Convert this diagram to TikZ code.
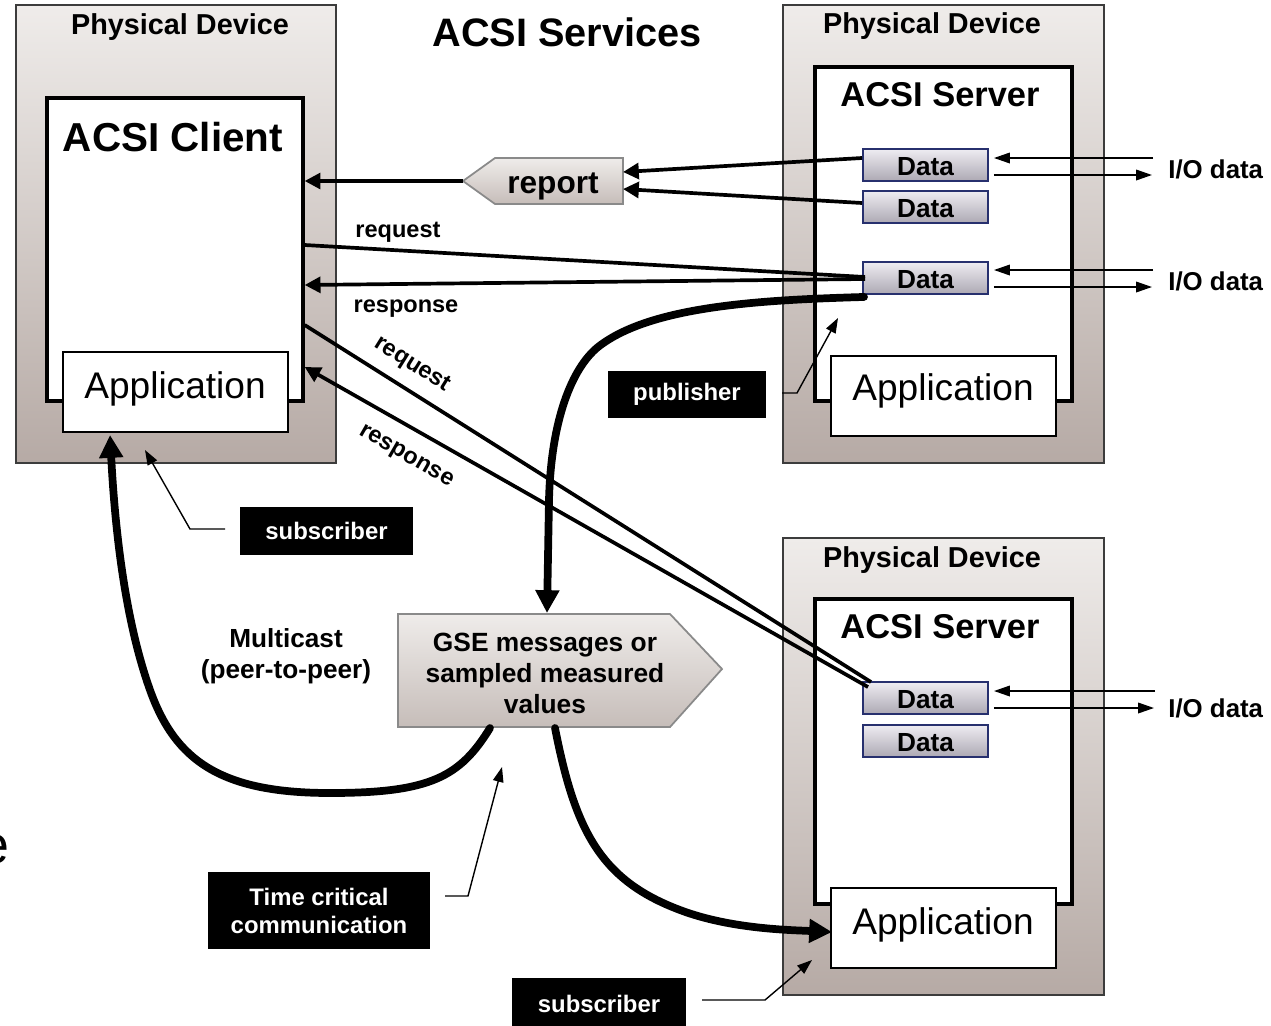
\documentclass[tikz,border=0pt]{standalone}
\usepackage{fontspec}
\setmainfont{Liberation Sans}
\usetikzlibrary{arrows.meta,fit}
\definecolor{pdtop}{HTML}{EFECEA}
\definecolor{pdbot}{HTML}{B6AAA5}
\definecolor{pdline}{HTML}{3C3C3C}
\definecolor{dtop}{HTML}{EEECF2}
\definecolor{dbot}{HTML}{ADA9B3}
\definecolor{dline}{HTML}{27306E}
\definecolor{mtop}{HTML}{EFECEA}
\definecolor{mbot}{HTML}{C6BDB9}
\definecolor{mline}{HTML}{8A8A8A}
\tikzset{
 pdbox/.style={draw=pdline, line width=0.85pt, top color=pdtop, bottom color=pdbot, inner sep=0pt},
 acsibox/.style={draw=black, line width=1.9pt, fill=white, inner sep=0pt},
 appbox/.style={draw=black, line width=1.1pt, fill=white, inner sep=0pt},
 databox/.style={draw=dline, line width=1.1pt, top color=dtop, bottom color=dbot, inner sep=0pt},
 msgshape/.style={draw=mline, line width=1pt, top color=mtop, bottom color=mbot},
 blackbox/.style={fill=black, text=white, inner sep=0pt, align=center, font=\fontsize{13.6}{15.9}\selectfont\bfseries},
 txt/.style={inner sep=0pt, anchor=base},
 devtitle/.style={txt, font=\fontsize{16.4}{19}\selectfont\bfseries},
 clienttitle/.style={txt, font=\fontsize{23}{27}\selectfont\bfseries},
 servertitle/.style={txt, font=\fontsize{19.6}{23}\selectfont\bfseries},
 apptxt/.style={txt, font=\fontsize{21.1}{25}\selectfont},
 datatxt/.style={inner sep=0pt, font=\fontsize{14.9}{17}\selectfont\bfseries},
 iotxt/.style={inner sep=0pt, anchor=base west, font=\fontsize{14.7}{17}\selectfont\bfseries},
 smalltxt/.style={inner sep=0pt, font=\fontsize{13.4}{16}\selectfont\bfseries},
 conn/.style={line width=2.1pt},
 connarrow/.style={conn, -{Triangle[length=9pt,width=9pt]}},
 bigarrow/.style={line width=4.4pt, line cap=round, -{Triangle[length=13pt,width=13pt]}},
 ioarrow/.style={line width=0.9pt, -{Triangle[length=9pt,width=6pt]}},
 ptr/.style={line width=0.8pt, -{Triangle[length=8.5pt,width=6pt]}},
}
\begin{document}
\begin{tikzpicture}[x=0.02cm,y=-0.02cm]
\useasboundingbox (0,0) rectangle (1271,1025);
\fill[white] (0,0) rectangle (1271,1025);

% stray glyph at the left edge
\node[inner sep=0pt, anchor=base east, font=\fontsize{30.6}{36}\selectfont] (stray) at (10,863) {e};

% title
\node[txt, font=\fontsize{22.6}{27}\selectfont\bfseries] (title) at (567,46) {ACSI Services};

% physical devices
\node[pdbox, fit={(16,5) (336,463)}] (pdL) {};
\node[pdbox, fit={(783,5) (1104,463)}] (pdR) {};
\node[pdbox, fit={(783,538) (1104,995)}] (pdB) {};
\node[devtitle] (pdLt) at (180,34) {Physical Device};
\node[devtitle] (pdRt) at (932,33) {Physical Device};
\node[devtitle] (pdBt) at (932,567) {Physical Device};

% client
\node[acsibox, fit={(47,98) (303,401)}] (client) {};
\node[clienttitle] (clientt) at (173,151) {ACSI Client};
\node[appbox, fit={(63,352) (288,432)}] (appL) {};
\node[apptxt] (appLt) at (175,398) {Application};

% server top
\node[acsibox, fit={(815,67) (1072,401)}] (srvR) {};
\node[servertitle] (srvRt) at (940,106) {ACSI Server};
\node[appbox, fit={(831,356) (1056,436)}] (appR) {};
\node[apptxt] (appRt) at (943,400) {Application};
\node[databox, fit={(863,149) (988,181)}] (d1) {};
\node[datatxt] (d1t) at ([yshift=-1]d1) {Data};
\node[databox, fit={(863,191) (988,223)}] (d2) {};
\node[datatxt] (d2t) at ([yshift=-1]d2) {Data};
\node[databox, fit={(863,262) (988,294)}] (d3) {};
\node[datatxt] (d3t) at ([yshift=-1]d3) {Data};

% server bottom
\node[acsibox, fit={(815,599) (1072,904)}] (srvB) {};
\node[servertitle] (srvBt) at (940,638) {ACSI Server};
\node[appbox, fit={(831,888) (1056,968)}] (appB) {};
\node[apptxt] (appBt) at (943,934) {Application};
\node[databox, fit={(863,682) (988,714)}] (d4) {};
\node[datatxt] (d4t) at ([yshift=-1]d4) {Data};
\node[databox, fit={(863,725) (988,757)}] (d5) {};
\node[datatxt] (d5t) at ([yshift=-1]d5) {Data};

% I/O data
\node[iotxt] (io1) at (1168,178) {I/O data};
\node[iotxt] (io2) at (1168,290) {I/O data};
\node[iotxt] (io3) at (1168,717) {I/O data};
\coordinate (io1a) at (1153,158); \coordinate (io1b) at (1152,175);
\coordinate (io2a) at (1153,270); \coordinate (io2b) at (1152,287);
\coordinate (io3a) at (1155,691); \coordinate (io3b) at (1154,708);
\draw[ioarrow] (io1a) -- ([shift={(5,-7)}]d1.east);
\draw[ioarrow] ([shift={(5,10)}]d1.east) -- (io1b);
\draw[ioarrow] (io2a) -- ([shift={(5,-8)}]d3.east);
\draw[ioarrow] ([shift={(5,9)}]d3.east) -- (io2b);
\draw[ioarrow] (io3a) -- ([shift={(5,-7)}]d4.east);
\draw[ioarrow] ([shift={(5,10)}]d4.east) -- (io3b);

% report
\coordinate (repTip) at (463,181);
\coordinate (repIn1) at (623,172);
\coordinate (repIn2) at (623,189);
\path[msgshape] (repTip) -- (495,158) -- (623,158) -- (623,204) -- (495,204) -- cycle;
\node[txt, font=\fontsize{18}{21}\selectfont\bfseries] (report) at (553,193) {report};
\draw[connarrow] ([shift={(0,-7)}]d1.west) -- (repIn1);
\draw[connarrow] ([shift={(0,-4)}]d2.west) -- (repIn2);
\draw[connarrow] (repTip) -- (client.east |- repTip);

% request / response (top server)
\draw[conn] (client.east |- 0,245) -- ([shift={(3,-1)}]d3.west);
\draw[connarrow] ([shift={(3,1)}]d3.west) -- (client.east |- 0,285);
\node[smalltxt, anchor=base] (req1) at (398,237) {request};
\node[smalltxt, anchor=base] (resp1) at (406,312) {response};

% request / response (bottom server)
\draw[conn] (client.east |- 0,325) -- ([shift={(9,1)}]d4.north west);
\draw[connarrow] ([shift={(6,6)}]d4.north west) -- (client.east |- 0,367);
\node[smalltxt, rotate=-32] (req2) at (412,365) {request};
\node[smalltxt, rotate=-30] (resp2) at (406,457) {response};

% GSE message
\coordinate (gseTop) at (547,613);
\path[msgshape] (398,614) -- (670,614) -- (722,669) -- (670,727) -- (398,727) -- cycle;
\node[inner sep=0pt, align=center, font=\fontsize{15}{17.6}\selectfont\bfseries] (gse) at (545,673) {GSE messages or\\sampled measured\\values};

% thick multicast arrows
\draw[bigarrow] ([shift={(2,2)}]d3.south west) .. controls (760,300) and (650,306) .. (598,347)
   .. controls (572,368) and (551,420) .. (549,500) -- (gseTop);
\draw[bigarrow] (490,728) .. controls (460,777) and (430,793) .. (330,793)
   .. controls (220,793) and (175,760) .. (150,690)
   .. controls (125,620) and (115,530) .. ([shift={(48,2)}]appL.south west);
\draw[bigarrow] (555,728) .. controls (575,830) and (600,880) .. (680,910)
   .. controls (730,929) and (790,930) .. ([shift={(2,4)}]appB.west);

\node[inner sep=0pt, align=center, font=\fontsize{14.9}{17.6}\selectfont\bfseries] (mcast) at (286,656) {Multicast\\(peer-to-peer)};

% black labels with pointers
\node[blackbox, minimum width=3.16cm, minimum height=0.94cm] (pub) at (687,394.5) {publisher};
\coordinate (pubA) at (782,393);
\draw[ptr] (pubA) -- (797,393) -- (838,318);

\node[blackbox, minimum width=3.46cm, minimum height=0.96cm] (subL) at (326.5,531) {subscriber};
\coordinate (subLA) at (225,529);
\draw[ptr] (subLA) -- (190,529) -- (145,450);

\node[blackbox, minimum width=4.44cm, minimum height=1.54cm] (tcc) at (319,910.5) {Time critical\\communication};
\coordinate (tccA) at (445,896);
\draw[ptr] (tccA) -- (468,896) -- (502,767);

\node[blackbox, minimum width=3.48cm, minimum height=1.04cm] (subB) at (599,1004) {subscriber};
\coordinate (subBA) at (702,1000);
\draw[ptr] (subBA) -- (765,1000) -- (812,960);
\end{tikzpicture}
\end{document}
